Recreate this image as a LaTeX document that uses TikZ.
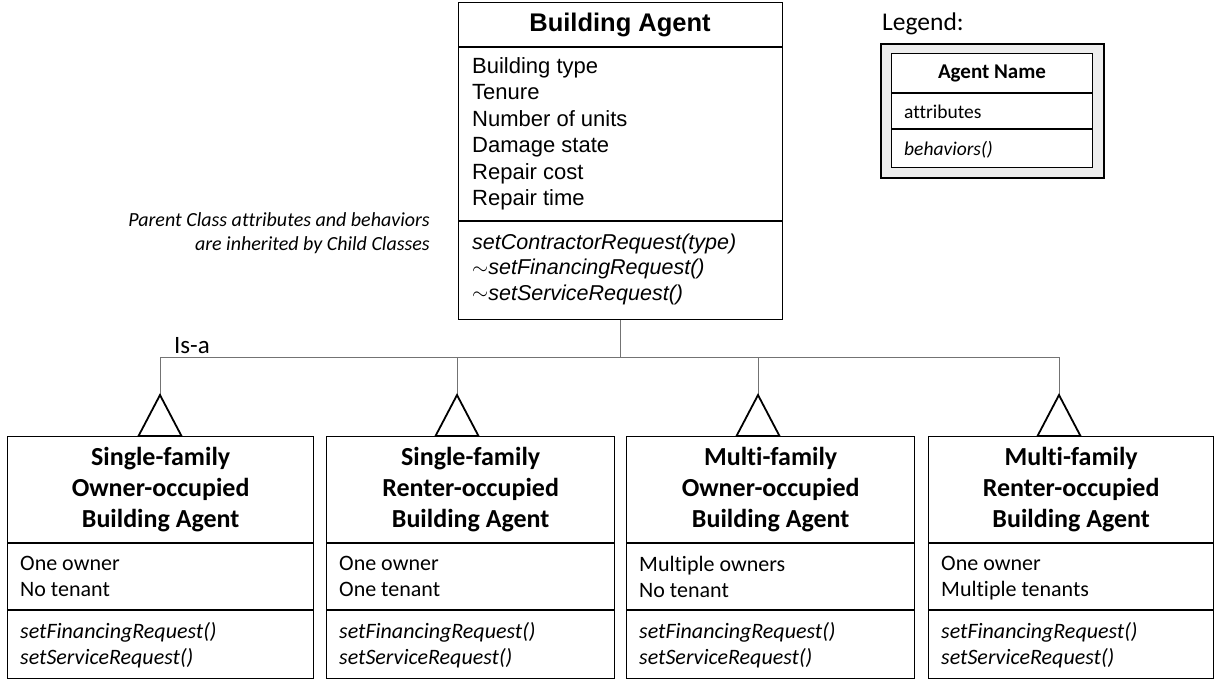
\documentclass[tikz,border=0pt]{standalone}
\usepackage{fontspec}
\setmainfont{Carlito}[Ligatures={NoCommon}]
\newfontfamily\arialf{Liberation Sans}
\newcommand\optilde{\raisebox{0.5pt}{$\sim$}}
\begin{document}
\begin{tikzpicture}[x=1pt,y=-1pt,
  box/.style={draw, line width=1.3pt, inner sep=0pt, anchor=north west},
  divider/.style={line width=1.1pt},
  conn/.style={draw=black!55, line width=0.9pt},
  tri/.style={draw, line width=1.8pt, line join=miter, fill=white},
  ptitle/.style={font=\arialf\bfseries\fontsize{25.5}{30}\selectfont, inner sep=0pt},
  pattr/.style={font=\arialf\fontsize{22}{26.4}\selectfont, align=left, inner sep=0pt, anchor=west, text depth=5pt},
  pbeh/.style={font=\arialf\itshape\fontsize{21.5}{25.5}\selectfont, align=left, inner sep=0pt, anchor=west},
  ctitle/.style={font=\bfseries\fontsize{26}{31}\selectfont, align=center, inner sep=0pt},
  cattr/.style={font=\fontsize{22}{26}\selectfont, align=left, inner sep=0pt, anchor=west, text depth=5pt},
  cbeh/.style={font=\itshape\fontsize{22}{26}\selectfont, align=left, inner sep=0pt, anchor=west, text depth=5pt},
  note/.style={font=\itshape\fontsize{20}{24}\selectfont, align=right, inner sep=0pt, anchor=east},
]
\useasboundingbox (0,0) rectangle (1215,679);

% ---- parent class ----
\node[box, minimum width=324, minimum height=317] (parent) at (458,2) {};
\draw[divider] ([yshift=-45]parent.north west) -- ([yshift=-45]parent.north east);
\draw[divider] ([yshift=-219]parent.north west) -- ([yshift=-219]parent.north east);
\node[ptitle] (parent-t) at (620,25) {Building Agent};
\node[pattr] (parent-a) at (472,134) {Building type\\Tenure\\Number of units\\Damage state\\Repair cost\\Repair time};
\node[pbeh] (parent-b) at (472,269) {setContractorRequest(type)\\\optilde setFinancingRequest()\\\optilde setServiceRequest()};

% ---- inheritance note ----
\node[note] (inherit) at (430,233) {Parent Class attributes and behaviors\\are inherited by Child Classes};

% ---- legend ----
\node[font=\fontsize{25.5}{30}\selectfont, inner sep=0pt, anchor=west] (legend-t) at (882,24) {Legend:};
\node[draw, line width=2pt, fill=black!7, inner sep=0pt, anchor=north west,
      minimum width=223, minimum height=134] (legend) at (880,43) {};
\node[draw, line width=1.2pt, fill=white, inner sep=0pt, anchor=north west,
      minimum width=201, minimum height=114] (legend-in) at (891,53) {};
\draw[line width=1.1pt] ([yshift=-40]legend-in.north west) -- ([yshift=-40]legend-in.north east);
\draw[line width=1.1pt] ([yshift=-76]legend-in.north west) -- ([yshift=-76]legend-in.north east);
\node[font=\bfseries\fontsize{21}{25}\selectfont, inner sep=0pt] (legend-n) at (992,73) {Agent Name};
\node[font=\fontsize{19.5}{24}\selectfont, inner sep=0pt, anchor=west] (legend-a) at (904,112) {attributes};
\node[font=\itshape\fontsize{19.5}{24}\selectfont, inner sep=0pt, anchor=west] (legend-b) at (904,150) {behaviors()};

% ---- generalisation bus ----
\coordinate (busL) at (160,357);
\coordinate (busR) at (1059,357);
\draw[conn] (parent.south) -- (parent.south |- busL);
\draw[conn] (busL) -- (busR);
\node[font=\fontsize{25}{30}\selectfont, inner sep=0pt] (isa) at (192,346) {Is-a};

% ---- child classes ----
% #1 name, #2 left, #3 right, #4 arrow x, #5 title, #6 attributes, #7 behaviours
\newcommand\childagent[7]{%
  \node[box, minimum width=#3-#2, minimum height=242] (#1) at (#2,436) {};
  \draw[divider] ([yshift=-107]#1.north west) -- ([yshift=-107]#1.north east);
  \draw[divider] ([yshift=-174]#1.north west) -- ([yshift=-174]#1.north east);
  \node[ctitle] (#1-t) at ([yshift=-54]#1.north) {#5};
  \node[cattr] (#1-a) at ([xshift=13,yshift=-143]#1.north west) {#6};
  \node[cbeh] (#1-b) at ([xshift=13,yshift=-210]#1.north west) {#7};
  \coordinate (#1-tip) at (#4,395);
  \draw[conn] (#1-tip |- busL) -- (#1-tip);
  \draw[tri] (#1-tip) -- ++(-21.5,41) -- ++(43,0) -- cycle;
}
\childagent{sfo}{7}{313}{160}{Single-family\\Owner-occupied\\Building Agent}{One owner\\No tenant}{setFinancingRequest()\\setServiceRequest()}
\childagent{sfr}{326}{614}{457}{Single-family\\Renter-occupied\\Building Agent}{One owner\\One tenant}{setFinancingRequest()\\setServiceRequest()}
\childagent{mfo}{626}{914}{758}{Multi-family\\Owner-occupied\\Building Agent}{Multiple owners\\No tenant}{setFinancingRequest()\\setServiceRequest()}
\childagent{mfr}{928}{1213}{1059}{Multi-family\\Renter-occupied\\Building Agent}{One owner\\Multiple tenants}{setFinancingRequest()\\setServiceRequest()}
\end{tikzpicture}
\end{document}
